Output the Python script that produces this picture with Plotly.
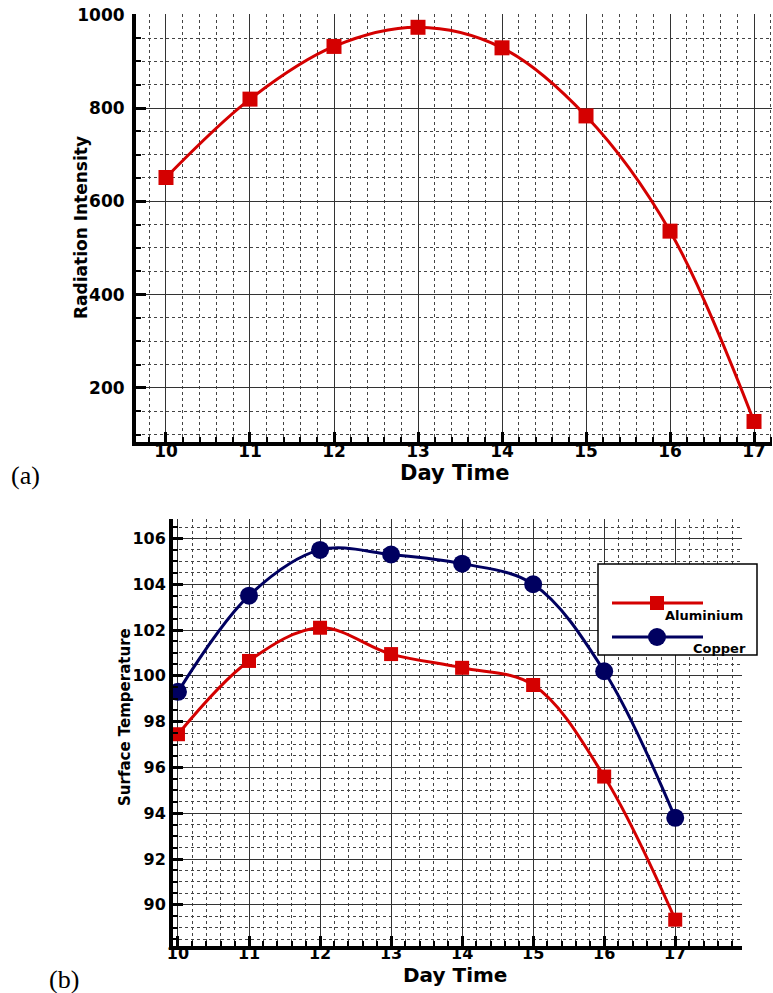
import plotly.graph_objects as go

W, H = 773, 993

# ---- data ----
day_time = [10, 11, 12, 13, 14, 15, 16, 17]
radiation = [651, 819, 932, 973, 929, 783, 536, 128]
aluminium = [97.45, 100.65, 102.1, 100.95, 100.35, 99.6, 95.6, 89.35]
copper = [99.3, 103.5, 105.5, 105.3, 104.9, 104.0, 100.2, 93.8]

RED = "#D40000"
NAVY = "#000060"
FONT = "DejaVu Sans"


def px(x):
    return x / W


def py(y):
    return 1 - y / H


fig = go.Figure()

fig.add_trace(go.Scatter(
    x=day_time, y=radiation, mode="lines+markers", name="Radiation",
    line=dict(color=RED, width=3, shape="spline", smoothing=1),
    marker=dict(symbol="square", size=15, color=RED),
    xaxis="x", yaxis="y", showlegend=False, cliponaxis=False))

fig.add_trace(go.Scatter(
    x=day_time, y=copper, mode="lines+markers", name="Copper",
    line=dict(color=NAVY, width=3, shape="spline", smoothing=1),
    marker=dict(symbol="circle", size=18, color=NAVY),
    xaxis="x2", yaxis="y2", showlegend=False, cliponaxis=False))

fig.add_trace(go.Scatter(
    x=day_time, y=aluminium, mode="lines+markers", name="Aluminium",
    line=dict(color=RED, width=3, shape="spline", smoothing=1),
    marker=dict(symbol="square", size=14, color=RED),
    xaxis="x2", yaxis="y2", showlegend=False, cliponaxis=False))


def axis_common(dtick, minor_dtick, tick0, fsize):
    return dict(
        tick0=tick0, dtick=dtick, showline=True, linecolor="black", linewidth=4,
        mirror=False, ticks="inside", ticklen=10, tickwidth=3, tickcolor="black",
        showgrid=True, gridcolor="#333", gridwidth=1, zeroline=False,
        tickfont=dict(family=FONT, size=fsize, color="black", weight="bold"),
        automargin=False,
        minor=dict(dtick=minor_dtick, tick0=tick0, ticks="inside", ticklen=5, tickwidth=2,
                   tickcolor="black", showgrid=True, griddash="dot",
                   gridcolor="#444", gridwidth=1),
        fixedrange=True,
    )


xa = axis_common(1, 0.2, 10, 17)
xa.update(domain=[px(136), px(772)], range=[9.643, 17.214], anchor="y", ticklabelstandoff=-9)
ya = axis_common(200, 50, 200, 17)
ya.update(domain=[py(442), py(14)], range=[84, 1001.5], anchor="x", ticklabelstandoff=4)

xb = axis_common(1, 0.2, 10, 16)
xb.update(domain=[px(173), px(742)], range=[9.93, 17.94], anchor="y2", ticklabelstandoff=-10)
yb = axis_common(2, 0.5, 90, 16)
yb.update(domain=[py(946), py(519)], range=[88.2, 106.85], anchor="x2", ticklabelstandoff=0)


def ann(text, x, y, family, size, angle=0, xanchor="center", bold=True):
    f = dict(family=family, size=size, color="black")
    if bold:
        f["weight"] = "bold"
    return dict(text=text, x=px(x), y=py(y), xref="paper", yref="paper",
                xanchor=xanchor, yanchor="middle", showarrow=False,
                textangle=angle, font=f)


annotations = [
    ann("Radiation Intensity", 81, 228, FONT, 17, angle=-90),
    ann("Day Time", 455, 473, FONT, 21),
    ann("(a)", 25, 475, "Liberation Serif", 26, bold=False),
    ann("Surface Temperature", 125, 717, FONT, 15, angle=-90),
    ann("Day Time", 455, 975, FONT, 20),
    ann("(b)", 64, 979, "Liberation Serif", 26, bold=False),
    ann("Aluminium", 745, 615, FONT, 13, xanchor="right"),
    ann("Copper", 748, 648, FONT, 13, xanchor="right"),
]

shapes = [
    dict(type="rect", xref="paper", yref="paper", x0=px(598), x1=px(757), y0=py(655), y1=py(564),
         line=dict(color="black", width=1.5), fillcolor="white", layer="above"),
    dict(type="line", xref="paper", yref="paper", x0=px(612), x1=px(703), y0=py(603), y1=py(603),
         line=dict(color=RED, width=3), layer="above"),
    dict(type="rect", xref="paper", yref="paper", x0=px(650), x1=px(664), y0=py(610), y1=py(596),
         line=dict(color=RED, width=0), fillcolor=RED, layer="above"),
    dict(type="line", xref="paper", yref="paper", x0=px(612), x1=px(703), y0=py(637), y1=py(637),
         line=dict(color=NAVY, width=3), layer="above"),
    dict(type="circle", xref="paper", yref="paper", x0=px(648), x1=px(666), y0=py(646), y1=py(628),
         line=dict(color=NAVY, width=0), fillcolor=NAVY, layer="above"),
]

fig.update_layout(
    width=W, height=H, autosize=False,
    margin=dict(l=0, r=0, t=0, b=0),
    paper_bgcolor="white", plot_bgcolor="white",
    xaxis=xa, yaxis=ya, xaxis2=xb, yaxis2=yb,
    annotations=annotations, shapes=shapes,
    showlegend=False,
)

fig.write_html("out.html", config={"displayModeBar": False},
               post_script="document.body.style.margin='0px';document.body.style.padding='0px';")
